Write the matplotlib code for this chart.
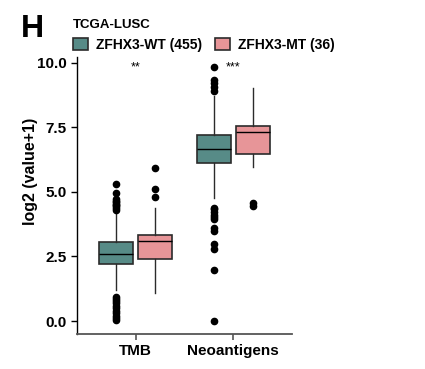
import numpy as np
import matplotlib
matplotlib.use("Agg")
from matplotlib import pyplot as plt
from matplotlib.patches import Patch

plt.rcParams['font.family'] = ['Liberation Sans', 'DejaVu Sans']

categories = ["TMB", "Neoantigens"]
groups = ["ZFHX3-WT (455)", "ZFHX3-MT (36)"]
colors = ["#578B87", "#E79598"]
signif = ["**", "***"]

# box statistics per (category, group): q1, median, q3, lower whisker, upper whisker
tmb_wt = dict(q1=2.21, med=2.61, q3=3.06, whislo=1.20, whishi=4.17)
tmb_mt = dict(q1=2.40, med=3.10, q3=3.33, whislo=1.07, whishi=4.36)
neo_wt = dict(q1=6.13, med=6.65, q3=7.20, whislo=4.75, whishi=8.72)
neo_mt = dict(q1=6.47, med=7.33, q3=7.57, whislo=5.98, whishi=9.02)

tmb_wt_fliers = [5.31, 4.95, 4.73, 4.66, 4.60, 4.55, 4.50, 4.45, 4.38, 4.30,
                 0.94, 0.85, 0.78, 0.70, 0.60, 0.50, 0.40, 0.30, 0.20, 0.12, 0.04]
tmb_mt_fliers = [5.92, 5.12, 4.82]
neo_wt_fliers = [9.83, 9.34, 9.20, 9.05, 8.92,
                 4.38, 4.33, 4.24, 4.10, 4.02, 3.95, 3.60, 3.47, 3.00, 2.77, 1.98, 0.0]
neo_mt_fliers = [4.57, 4.45]

stats = [
    [dict(tmb_wt, fliers=tmb_wt_fliers), dict(tmb_mt, fliers=tmb_mt_fliers)],
    [dict(neo_wt, fliers=neo_wt_fliers), dict(neo_mt, fliers=neo_mt_fliers)],
]

fig = plt.figure(figsize=(4.25, 3.69), dpi=100)
ax = fig.add_axes([0.181, 0.095, 0.506, 0.751])

offsets = [-0.2, 0.2]
width = 0.35
edge = "#2b2b2b"
for i, cat_stats in enumerate(stats):
    for j, st in enumerate(cat_stats):
        ax.bxp([st], positions=[i + 1 + offsets[j]], widths=width,
               patch_artist=True, showcaps=False,
               boxprops=dict(facecolor=colors[j], edgecolor=edge, linewidth=1.2),
               medianprops=dict(color="black", linewidth=1.0),
               whiskerprops=dict(color=edge, linewidth=1.0),
               flierprops=dict(marker="o", markerfacecolor="black",
                               markeredgecolor="black", markersize=4.5))
    ax.text(i + 1, 9.8, signif[i], ha="center", va="center", fontsize=9)

ax.set_xlim(0.4, 2.6)
ax.set_ylim(-0.5, 10.23)
ax.set_xticks([1, 2])
ax.set_xticklabels(categories, fontsize=11, fontweight="bold")
ax.set_yticks([0, 2.5, 5, 7.5, 10])
ax.set_yticklabels(["0.0", "2.5", "5.0", "7.5", "10.0"], fontsize=11, fontweight="bold")
ax.set_ylabel("log2 (value+1)", fontsize=11.5, fontweight="bold")
ax.yaxis.set_label_coords(-0.181, 0.585)
ax.tick_params(axis="x", length=4, color="#555555", width=1.2)
ax.tick_params(axis="y", length=4, color="black", width=1.0)
for s in ["top", "right"]:
    ax.spines[s].set_visible(False)
ax.spines["bottom"].set_color("#555555")
ax.spines["bottom"].set_linewidth(1.3)
ax.spines["left"].set_linewidth(1.0)

handles = [Patch(facecolor=c, edgecolor=edge, linewidth=1.2) for c in colors]
leg = fig.legend(handles, groups, title="TCGA-LUSC", loc="upper left",
                 bbox_to_anchor=(0.148, 0.975), ncol=2, frameon=False,
                 prop=dict(size=10, weight="bold"), handlelength=1.1,
                 handleheight=0.9, handletextpad=0.6, columnspacing=0.9,
                 borderpad=0.2)
leg.get_title().set_fontweight("bold")
leg.get_title().set_fontsize(9.5)
leg._legend_box.align = "left"

fig.text(0.05, 0.922, "H", fontsize=23, fontweight="bold", va="center", ha="left")

fig.savefig("out.png", dpi=100)
